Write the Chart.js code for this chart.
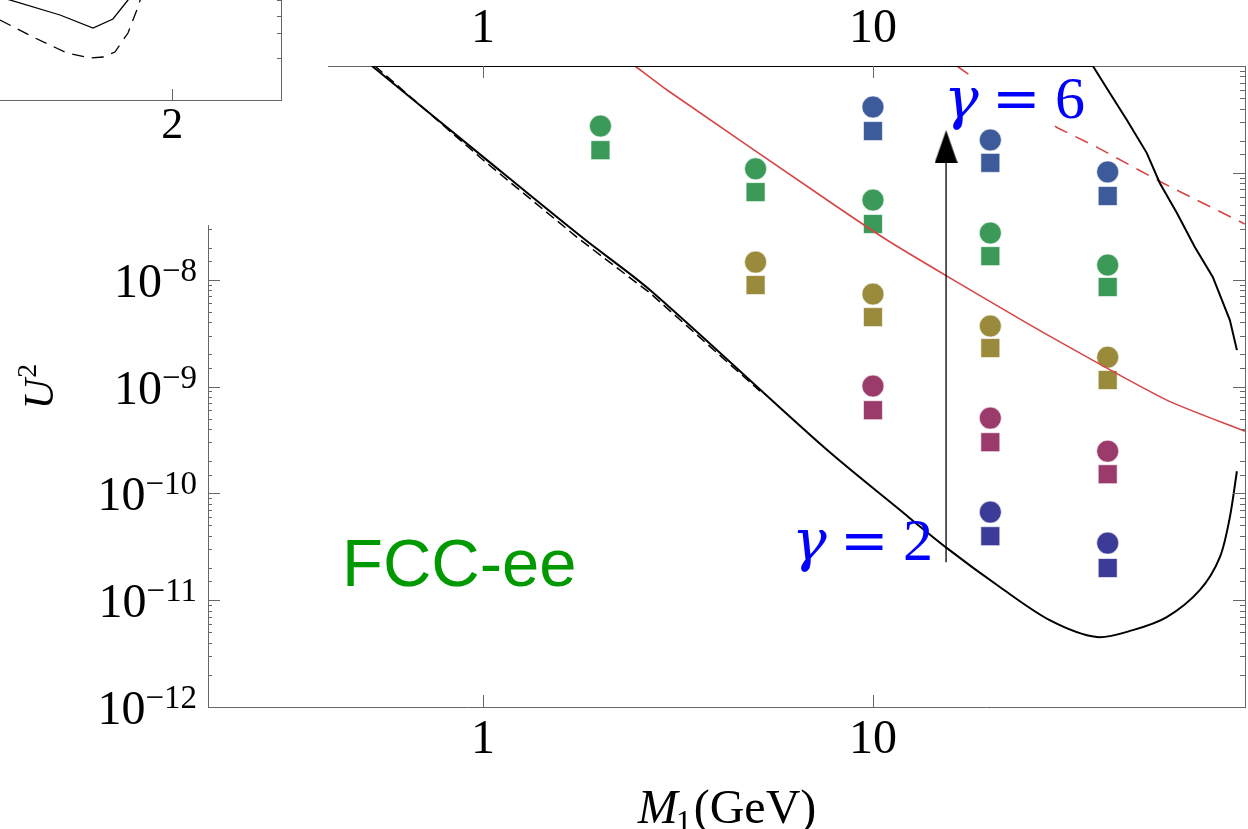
<!DOCTYPE html>
<html>
<head>
<meta charset="utf-8">
<script src="https://cdn.jsdelivr.net/npm/chart.js@4.4.1/dist/chart.umd.min.js"></script>
<style>
  html, body { margin: 0; padding: 0; background: #fff; }
  #wrap { position: relative; width: 1248px; height: 829px; overflow: hidden; }
  #main { position: absolute; left: 0; top: 0; }
  #inset { position: absolute; left: 0; top: 0; background: #fff; }
</style>
</head>
<body>
<div id="wrap">
  <canvas id="main" width="1248" height="829"></canvas>
  <canvas id="inset" width="328" height="225"></canvas>
</div>
<script>
// ── data ─────────────────────────────────────────────────────────────────────
const xMin = 0.197, xMax = 90;          // M1 (GeV)
const yMin = 1e-12, yMax = 1e-6;        // U^2

const masses = [2, 5, 10, 20, 40];
// U^2 of the benchmark points (circle above square), null = not shown
const blueCircles    = [null, null, 4.13e-7, 2.03e-7, 1.02e-7];
const blueSquares    = [null, null, 2.46e-7, 1.24e-7, 6.07e-8];
const greenCircles   = [2.74e-7, 1.09e-7, 5.56e-8, 2.73e-8, 1.37e-8];
const greenSquares   = [1.63e-7, 6.6e-8, 3.32e-8, 1.66e-8, 8.53e-9];
const oliveCircles   = [null, 1.46e-8, 7.33e-9, 3.68e-9, 1.88e-9];
const oliveSquares   = [null, 8.9e-9, 4.46e-9, 2.29e-9, 1.15e-9];
const magentaCircles = [null, null, 1.01e-9, 5.06e-10, 2.48e-10];
const magentaSquares = [null, null, 6.0e-10, 3.01e-10, 1.51e-10];
const indigoCircles  = [null, null, null, 6.67e-11, 3.42e-11];
const indigoSquares  = [null, null, null, 3.97e-11, 2.0e-11];

// black contour, upper-right part running along the top edge
const upperM  = [85.8, 82.3, 74.4, 66.9, 60.2, 54.4, 50.4, 44.8, 40.5, 36.65, 0.519];
const upperU2 = [2.19e-9, 4.19e-9, 1.06e-8, 2.02e-8, 4.2e-8, 8.03e-8, 1.53e-7, 3.12e-7, 5.59e-7, 1e-6, 1e-6];
// black contour, lower branch
const lowerM  = [0.519, 1.0, 1.804, 2.68, 7.53, 11.73, 15.48, 21.2, 28.4, 37.5, 46.4, 56.7, 68.9, 77.6, 82.3, 85.8];
const lowerU2 = [1e-6, 1.41e-7, 2.45e-8, 7.99e-9, 2.65e-10, 6.97e-11, 3.07e-11, 1.32e-11, 6.5e-12, 4.51e-12, 5.24e-12, 6.93e-12, 1.24e-11, 2.53e-11, 5.98e-11, 1.61e-10];
// black dashed
const dashedM  = [0.528, 1.0, 1.752, 2.68, 5.13];
const dashedU2 = [1e-6, 1.32e-7, 2.45e-8, 7.5e-9, 9.06e-10];
// red solid
const redM  = [2.453, 2.963, 7.76, 10.86, 15.75, 28.4, 56.7, 89.9];
const redU2 = [1e-6, 5.96e-7, 5.33e-8, 2.35e-8, 1.04e-8, 2.96e-9, 7.46e-10, 3.82e-10];
// red dashed
const redDashM  = [16.42, 17.7, 29.8, 37.5, 55.4, 67.7, 89.9];
const redDashU2 = [1e-6, 8.24e-7, 2.63e-7, 1.74e-7, 8.03e-8, 5.56e-8, 3.32e-8];
// gamma arrow
const arrowM = 15.4;
const arrowU2 = [2.27e-11, 1.63e-7];
const arrowHeadU2 = 1.76e-7;

// inset (top-left, partly cut off)
const insetSolidX  = [1.05, 1.381, 1.563, 1.673, 1.756, 1.778];
const insetSolidY  = [1.03, 0.85, 0.72, 0.81, 1.0, 1.06];
const insetDashX   = [1.05, 1.232, 1.42, 1.546, 1.618, 1.684, 1.756, 1.811, 1.828];
const insetDashY   = [0.80, 0.63, 0.47, 0.42, 0.43, 0.48, 0.67, 0.93, 1.03];
const insetXTicks  = [2];
const insetYTicks  = [1.0, 0.84, 0.67, 0.42];

// ── helpers ──────────────────────────────────────────────────────────────────
const SERIF = '"Liberation Serif", "Times New Roman", serif';
const AXIS = '#666';
const zip = (xs, ys) => xs.map((x, i) => ({ x, y: ys[i] })).filter(p => p.y != null);
const isDecade = v => Math.abs(Math.log10(v) - Math.round(Math.log10(v))) < 1e-6;
const fixSize = (w, h) => s => {
  if (w != null) s.width = w;
  if (h != null) s.height = h;
  s.paddingLeft = s.paddingRight = s.paddingTop = s.paddingBottom = 0;
};

function markerSet(vals, color, style) {
  return {
    data: zip(masses, vals), showLine: false,
    pointStyle: style, pointRadius: style === 'rect' ? 13.4 : 11,
    backgroundColor: color, borderColor: 'rgba(255,255,255,0.6)', borderWidth: 1
  };
}
function lineSet(xs, ys, color, width, dash, tension) {
  return {
    data: zip(xs, ys), showLine: true, pointRadius: 0,
    borderColor: color, borderWidth: width, borderDash: dash || [], tension: tension || 0
  };
}

// arrow head as an image-style point
const head = document.createElement('canvas');
head.width = 23; head.height = 33;
(() => {
  const c = head.getContext('2d');
  c.fillStyle = '#000';
  c.beginPath(); c.moveTo(11.5, 0); c.lineTo(23, 33); c.lineTo(0, 33); c.closePath(); c.fill();
})();

// tick marks drawn pointing into the plot
const inwardTicks = {
  id: 'inwardTicks',
  afterDraw(chart, args, opts) {
    const { ctx, chartArea: a } = chart;
    ctx.save();
    ctx.strokeStyle = AXIS; ctx.lineWidth = 1;
    for (const [id, len] of Object.entries(opts.scales || {})) {
      const s = chart.scales[id];
      if (!s) continue;
      s.ticks.forEach(t => {
        const major = s.type === 'logarithmic' ? isDecade(t.value) : true;
        const l = major ? len.major : len.minor;
        if (!l) return;
        const p = Math.round(s.getPixelForValue(t.value)) + 0.5;
        ctx.beginPath();
        if (s.position === 'left')   { ctx.moveTo(a.left, p);   ctx.lineTo(a.left + l, p); }
        if (s.position === 'right')  { ctx.moveTo(a.right, p);  ctx.lineTo(a.right - l, p); }
        if (s.position === 'bottom') { ctx.moveTo(p, a.bottom); ctx.lineTo(p, a.bottom - l); }
        if (s.position === 'top')    { ctx.moveTo(p, a.top);    ctx.lineTo(p, a.top + l); }
        ctx.stroke();
      });
    }
    ctx.restore();
  }
};

// power-of-ten labels, axis titles and the annotations
const annotate = {
  id: 'annotate',
  afterDraw(chart) {
    const { ctx } = chart;
    const ys = chart.scales.y;
    ctx.save();
    ctx.fillStyle = '#000';
    ctx.textBaseline = 'alphabetic';
    ctx.textAlign = 'left';
    ys.ticks.forEach(t => {
      if (!isDecade(t.value)) return;
      const p = ys.getPixelForValue(t.value);
      const sup = '\u2212' + Math.abs(Math.round(Math.log10(t.value)));
      ctx.font = '33px ' + SERIF; const ws = ctx.measureText(sup).width;
      ctx.font = '48px ' + SERIF; const wb = ctx.measureText('10').width;
      ctx.fillText('10', 197 - ws - wb, p + 17);
      ctx.font = '33px ' + SERIF;
      ctx.fillText(sup, 197 - ws, p + 1);
    });

    // y title: U^2
    ctx.save();
    ctx.translate(53, 387);
    ctx.rotate(-Math.PI / 2);
    ctx.font = 'italic 42px ' + SERIF; const wu = ctx.measureText('U').width;
    ctx.font = '28px ' + SERIF; const w2 = ctx.measureText('2').width;
    const x0 = -(wu + w2) / 2;
    ctx.font = 'italic 42px ' + SERIF; ctx.fillText('U', x0, 0);
    ctx.font = '28px ' + SERIF; ctx.fillText('2', x0 + wu + 1, -17);
    ctx.restore();

    // x title: M1(GeV)
    ctx.font = 'italic 48px ' + SERIF; const wm = ctx.measureText('M').width;
    ctx.font = '32px ' + SERIF; const w1 = ctx.measureText('1').width;
    ctx.font = '48px ' + SERIF; const wg = ctx.measureText('(GeV)').width;
    let tx = 727 - (wm + w1 + wg) / 2;
    ctx.font = 'italic 48px ' + SERIF; ctx.fillText('M', tx, 823); tx += wm - 2;
    ctx.font = '32px ' + SERIF; ctx.fillText('1', tx, 832); tx += w1 + 2;
    ctx.font = '48px ' + SERIF; ctx.fillText('(GeV)', tx, 823);

    // FCC-ee
    ctx.fillStyle = '#009a00';
    ctx.font = '67px "Liberation Sans", Arial, sans-serif';
    ctx.fillText('FCC-ee', 342, 586);

    // gamma labels
    const gamma = (x, base, digit) => {
      ctx.fillStyle = '#0000ff';
      ctx.font = 'italic 58px "DejaVu Serif", serif'; ctx.fillText('\u03b3', x, base);
      ctx.font = '58px "DejaVu Serif", serif'; ctx.fillText('=', x + 48, base);
      ctx.font = '60px ' + SERIF; ctx.fillText(digit, x + 111, base);
    };
    ctx.fillStyle = '#fff';
    ctx.fillRect(944, 77, 146, 48);
    gamma(944, 118, '6');
    gamma(792, 560, '2');
    ctx.restore();
  }
};

// ── main chart ───────────────────────────────────────────────────────────────
const datasets = [
  lineSet(arrowU2.map(() => arrowM), arrowU2, '#000', 1.3),
  { data: [{ x: arrowM, y: arrowHeadU2 }], showLine: false, pointStyle: head, pointRadius: 12 },
  lineSet(upperM, upperU2, '#000', 2),
  lineSet(lowerM, lowerU2, '#000', 2, null, 0.3),
  lineSet(dashedM, dashedU2, '#000', 1.5, [10, 5]),
  lineSet(redM, redU2, '#d64545', 1.6, null, 0.2),
  lineSet(redDashM, redDashU2, '#d64545', 1.6, [14, 9]),
  markerSet(blueCircles, '#3d5b9b', 'circle'),
  markerSet(blueSquares, '#3d5b9b', 'rect'),
  markerSet(greenCircles, '#3b9a57', 'circle'),
  markerSet(greenSquares, '#3b9a57', 'rect'),
  markerSet(oliveCircles, '#9a8a3b', 'circle'),
  markerSet(oliveSquares, '#9a8a3b', 'rect'),
  markerSet(magentaCircles, '#9a3b6c', 'circle'),
  markerSet(magentaSquares, '#9a3b6c', 'rect'),
  markerSet(indigoCircles, '#3c3c98', 'circle'),
  markerSet(indigoSquares, '#3c3c98', 'rect')
];

const tickFont = { family: SERIF, size: 48 };
const decadeLabel = v => (isDecade(v) ? String(Math.round(v)) : '');

new Chart(document.getElementById('main'), {
  type: 'scatter',
  data: { datasets },
  options: {
    responsive: false, animation: false, events: [],
    layout: { padding: 0, autoPadding: false },
    plugins: {
      legend: { display: false }, tooltip: { enabled: false },
      inwardTicks: { scales: {
        x: { major: 12, minor: 0 }, xTop: { major: 12, minor: 0 },
        y: { major: 12, minor: 4 }, yRight: { major: 12, minor: 5 }
      } }
    },
    scales: {
      x: {
        type: 'logarithmic', position: 'bottom', min: xMin, max: xMax,
        grid: { display: false, drawTicks: false }, border: { color: AXIS, width: 1 },
        ticks: { autoSkip: false, maxRotation: 0, padding: 5, color: '#000', font: tickFont, callback: decadeLabel },
        afterFit: fixSize(null, 122)
      },
      xTop: {
        type: 'logarithmic', position: 'top', min: xMin, max: xMax,
        grid: { display: false, drawTicks: false }, border: { color: AXIS, width: 1 },
        ticks: { autoSkip: false, maxRotation: 0, padding: 8, color: '#000', font: tickFont, callback: decadeLabel },
        afterFit: fixSize(null, 66)
      },
      y: {
        type: 'logarithmic', position: 'left', min: yMin, max: yMax,
        grid: { display: false, drawTicks: false }, border: { color: AXIS, width: 1 },
        ticks: { display: false },
        afterFit: fixSize(208, null)
      },
      yRight: {
        type: 'logarithmic', position: 'right', min: yMin, max: yMax,
        grid: { display: false, drawTicks: false }, border: { color: AXIS, width: 1 },
        ticks: { display: false },
        afterFit: fixSize(3, null)
      }
    }
  },
  plugins: [inwardTicks, annotate]
});

// ── inset (only its lower-right corner is in frame) ──────────────────────────
new Chart(document.getElementById('inset'), {
  type: 'scatter',
  data: { datasets: [
    lineSet(insetSolidX, insetSolidY, '#000', 1.3),
    lineSet(insetDashX, insetDashY, '#000', 1.3, [12, 8])
  ] },
  options: {
    responsive: false, animation: false, events: [],
    layout: { padding: 0, autoPadding: false },
    plugins: {
      legend: { display: false }, tooltip: { enabled: false },
      inwardTicks: { scales: { x: { major: 11, minor: 0 }, yRight: { major: 4, minor: 4 } } }
    },
    scales: {
      x: {
        type: 'linear', min: 1.05, max: 2.6,
        afterBuildTicks: s => { s.ticks = insetXTicks.map(v => ({ value: v })); },
        grid: { display: false, drawTicks: false }, border: { color: AXIS, width: 1 },
        ticks: { padding: 0, color: '#000', font: { family: SERIF, size: 44 } },
        afterFit: fixSize(null, 125)
      },
      y: { type: 'linear', min: 0, max: 1, display: false },
      yRight: {
        type: 'linear', position: 'right', min: 0, max: 1,
        afterBuildTicks: s => { s.ticks = insetYTicks.map(v => ({ value: v })); },
        grid: { display: false, drawTicks: false }, border: { color: AXIS, width: 1 },
        ticks: { display: false },
        afterFit: fixSize(47, null)
      }
    }
  },
  plugins: [inwardTicks]
});
</script>
</body>
</html>
